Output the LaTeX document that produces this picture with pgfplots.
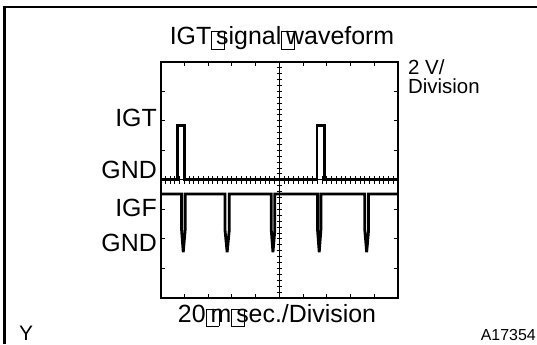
\documentclass[border=0pt]{standalone}
\usepackage{pgfplots}
\pgfplotsset{compat=1.18}
\usepackage{fontspec}
\setmainfont{Liberation Sans}
\newcommand\gbox{\rlap{\raisebox{-0.16em}{\setlength\fboxsep{0pt}\setlength\fboxrule{0.5pt}\framebox{\rule{0pt}{0.68em}\hspace{0.5em}}}}\ \kern-0.08em}
\begin{document}
\begin{tikzpicture}[x=1bp,y=1bp]
\useasboundingbox (0,0) rectangle (537,344);
\draw[line width=2.2bp] (4.5,0) -- (4.5,336.8) -- (537,336.8);
% main box axis
\begin{axis}[at={(160.7bp,46bp)}, anchor=south west, scale only axis,
  width=237.3bp, height=236.3bp,
  xmin=-5, xmax=5, ymin=-4, ymax=4,
  xtick={-5,...,5}, ytick={-4,...,4},
  xticklabels={}, yticklabels={},
  tick align=inside, tick pos=both, major tick length=4.5bp,
  tick style={line width=0.9bp, black},
  axis line style={line width=1.6bp},
  clip=false]
\addplot[line width=2.8bp, black] coordinates {
(-5,0) (-4.30,0) (-4.30,1.85) (-4.00,1.85) (-4.00,0) (1.59,0) (1.59,1.85) (1.89,1.85) (1.89,0) (5,0)};
\addplot[line width=2.8bp, black] coordinates {
(-5,-0.48) (-4.12,-0.48) (-4.12,-1.7) (-4.05,-2.45) (-3.97,-1.7) (-3.97,-0.48)
(-2.29,-0.48) (-2.29,-1.7) (-2.20,-2.45) (-2.11,-1.7) (-2.11,-0.48)
(-0.34,-0.48) (-0.34,-1.7) (-0.27,-2.45) (-0.19,-1.7) (-0.19,-0.48)
(1.61,-0.48) (1.61,-1.7) (1.68,-2.45) (1.75,-1.7) (1.75,-0.48)
(3.60,-0.48) (3.60,-1.7) (3.68,-2.45) (3.76,-1.7) (3.76,-0.48)
(5,-0.48)};
\end{axis}
% horizontal centre line with minor ticks
\begin{axis}[at={(160.7bp,46bp)}, anchor=south west, scale only axis,
  width=237.3bp, height=236.3bp,
  xmin=-5, xmax=5, ymin=-4, ymax=4,
  axis x line=middle, axis y line=none,
  xtick={-5,-4.8,...,5}, ytick=\empty,
  xticklabels={}, tick align=center, major tick length=7.5bp,
  tick style={line width=0.9bp, black},
  axis line style={-, line width=1.2bp}]
\end{axis}
% vertical centre line with minor ticks
\begin{axis}[at={(160.7bp,46bp)}, anchor=south west, scale only axis,
  width=237.3bp, height=236.3bp,
  xmin=-5, xmax=5, ymin=-4, ymax=4,
  axis y line=middle, axis x line=none,
  ytick={-4,-3.8,...,4}, xtick=\empty,
  yticklabels={}, tick align=center, major tick length=5.5bp,
  tick style={line width=0.9bp, black},
  axis line style={-, line width=1.2bp}]
\end{axis}
% texts
\node[anchor=base, font=\fontsize{25}{28}\selectfont, inner sep=0pt] at (282,299.3) {IGT\gbox signal\gbox waveform};
\node[anchor=base east, font=\fontsize{25}{28}\selectfont, inner sep=0pt] at (157,217.3) {IGT};
\node[anchor=base east, font=\fontsize{25}{28}\selectfont, inner sep=0pt] at (157,165.7) {GND};
\node[anchor=base east, font=\fontsize{25}{28}\selectfont, inner sep=0pt] at (157,127.3) {IGF};
\node[anchor=base east, font=\fontsize{25}{28}\selectfont, inner sep=0pt] at (157,92.3) {GND};
\node[anchor=base west, font=\fontsize{20.5}{23}\selectfont, inner sep=0pt] at (408,269.5) {2 V/};
\node[anchor=base west, font=\fontsize{20.5}{23}\selectfont, inner sep=0pt] at (408,250.5) {Division};
\node[anchor=base, font=\fontsize{25}{28}\selectfont, inner sep=0pt] at (277,22) {20\gbox m\gbox sec./Division};
\node[anchor=base west, font=\fontsize{21}{24}\selectfont, inner sep=0pt] at (19,4) {Y};
\node[anchor=base east, font=\fontsize{16}{19}\selectfont, inner sep=0pt] at (536,4) {A17354};
\end{tikzpicture}
\end{document}
